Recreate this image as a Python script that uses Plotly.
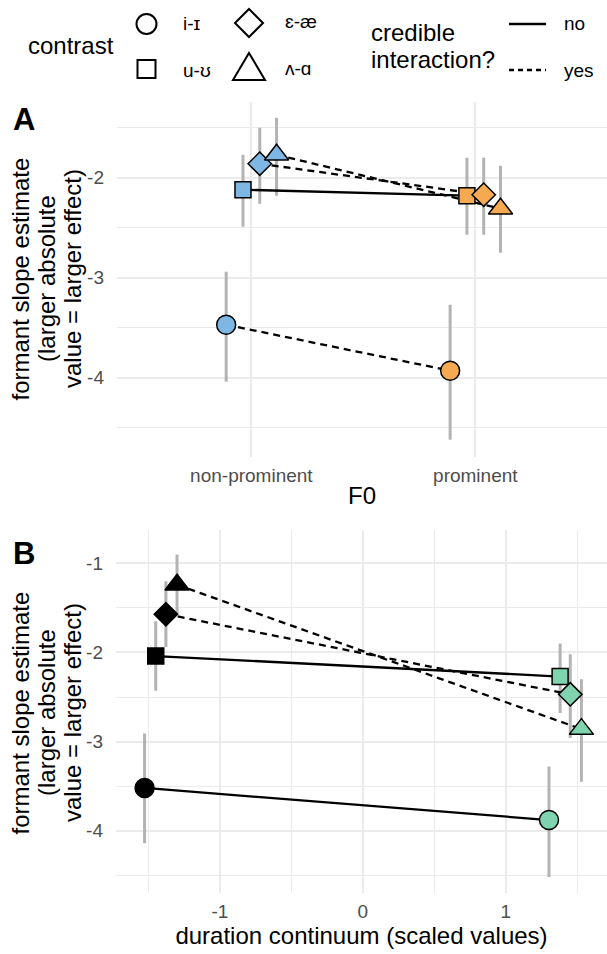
import plotly.graph_objects as go

W, H = 607, 954

# ---------------- data ----------------
contrasts = ["i-ɪ", "u-ʊ", "ɛ-æ", "ʌ-ɑ"]
symbols = ["circle", "square", "diamond", "triangle-up"]

# Panel A: F0 (categorical)
f0_levels = ["non-prominent", "prominent"]
a_est_nonprom = [-3.47, -2.12, -1.86, -1.77]
a_lo_nonprom = [-4.04, -2.49, -2.26, -2.18]
a_hi_nonprom = [-2.94, -1.77, -1.50, -1.40]
a_est_prom = [-3.93, -2.18, -2.17, -2.31]
a_lo_prom = [-4.62, -2.57, -2.57, -2.75]
a_hi_prom = [-3.27, -1.80, -1.80, -1.88]
a_credible = ["yes", "no", "yes", "yes"]

# Panel B: duration continuum (scaled values)
b_x_short = [-1.527, -1.449, -1.378, -1.300]
b_x_long = [1.302, 1.380, 1.451, 1.529]
b_est_short = [-3.52, -2.04, -1.57, -1.24]
b_lo_short = [-4.14, -2.43, -1.94, -1.57]
b_hi_short = [-2.91, -1.65, -1.20, -0.90]
b_est_long = [-3.88, -2.27, -2.47, -2.86]
b_lo_long = [-4.52, -2.68, -2.96, -3.45]
b_hi_long = [-3.28, -1.90, -2.02, -2.30]
b_credible = ["no", "no", "yes", "yes"]

a_yticks = [-4, -3, -2]
a_yminor = [-4.5, -3.5, -2.5, -1.5]
b_yticks = [-4, -3, -2, -1]
b_yminor = [-4.5, -3.5, -2.5, -1.5]
b_xticks = [-1, 0, 1]
b_xminor = [-1.5, -0.5, 0.5, 1.5]

ytitle_lines = ["formant slope estimate", "(larger absolute", "value = larger effect)"]

# ---------------- style ----------------
FONT = "Liberation Sans, Arial, DejaVu Sans, sans-serif"
marker_sizes = [19, 16, 18, 21]
col_a = ["#7EB6E4", "#F5AA52"]
col_b = ["#000000", "#7FD3AE"]
err_col = "#B3B3B3"
grid_col = "#EBEBEB"
dodge = [-0.1125, -0.0375, 0.0375, 0.1125]
dash_map = {"no": "solid", "yes": "7px,5px"}


def px_x(p):
    return p / W


def px_y(p):
    return 1 - p / H


fig = go.Figure()


def add_panel(xs0, xs1, e0, e1, lo0, lo1, hi0, hi1, cred, cols, xa, ya):
    # error bars (bottom layer)
    for i in range(4):
        fig.add_trace(go.Scatter(
            x=[xs0[i], xs1[i]], y=[e0[i], e1[i]], mode="markers",
            marker=dict(size=2, opacity=0),
            error_y=dict(type="data", symmetric=False,
                         array=[hi0[i] - e0[i], hi1[i] - e1[i]],
                         arrayminus=[e0[i] - lo0[i], e1[i] - lo1[i]],
                         color=err_col, thickness=3, width=0),
            xaxis=xa, yaxis=ya, showlegend=False, hoverinfo="skip"))
    # connecting lines
    for i in range(4):
        fig.add_trace(go.Scatter(
            x=[xs0[i], xs1[i]], y=[e0[i], e1[i]], mode="lines",
            line=dict(color="black", width=2.3, dash=dash_map[cred[i]]),
            xaxis=xa, yaxis=ya, showlegend=False, hoverinfo="skip"))
    # points
    for i in range(4):
        fig.add_trace(go.Scatter(
            x=[xs0[i], xs1[i]], y=[e0[i], e1[i]], mode="markers",
            name=contrasts[i],
            marker=dict(symbol=symbols[i], size=marker_sizes[i], color=cols,
                        line=dict(color="black", width=1.5)),
            xaxis=xa, yaxis=ya, showlegend=False))


a_x0 = [1 + d for d in dodge]
a_x1 = [2 + d for d in dodge]
add_panel(a_x0, a_x1, a_est_nonprom, a_est_prom, a_lo_nonprom, a_lo_prom,
          a_hi_nonprom, a_hi_prom, a_credible, col_a, "x", "y")
add_panel(b_x_short, b_x_long, b_est_short, b_est_long, b_lo_short, b_lo_long,
          b_hi_short, b_hi_long, b_credible, col_b, "x2", "y2")

tickfont = dict(family=FONT, size=19, color="#4D4D4D")
titlefont = dict(family=FONT, size=24, color="black")

common_ax = dict(showline=False, zeroline=False, ticks="", tickfont=tickfont,
                 gridcolor=grid_col, gridwidth=1.6, showgrid=True)

fig.update_layout(
    width=W, height=H, margin=dict(l=0, r=0, t=0, b=0),
    paper_bgcolor="white", plot_bgcolor="white", showlegend=False,
    font=dict(family=FONT, color="black"),
    xaxis=dict(domain=[px_x(117), 1], range=[0.4, 2.588], anchor="y",
               tickmode="array", tickvals=[1, 2], ticktext=f0_levels,
               ticklabelstandoff=5,
               title=dict(text="F0", font=titlefont, standoff=2), **common_ax),
    yaxis=dict(domain=[px_y(456.7), px_y(101.7)], range=[-4.79, -1.24], anchor="x",
               tickmode="array", tickvals=a_yticks, ticktext=[str(v) for v in a_yticks],
               ticklabelstandoff=12,
               minor=dict(tickmode="array", tickvals=a_yminor, showgrid=True,
                          gridcolor=grid_col, gridwidth=0.9, ticks=""),
               **common_ax),
    xaxis2=dict(domain=[px_x(116), 1], range=[-1.727, 1.708], anchor="y2",
                tickmode="array", tickvals=b_xticks, ticktext=[str(v) for v in b_xticks],
                ticklabelstandoff=5,
                minor=dict(tickmode="array", tickvals=b_xminor, showgrid=True,
                           gridcolor=grid_col, gridwidth=0.9, ticks=""),
                title=dict(text="duration continuum (scaled values)", font=titlefont, standoff=0),
                **common_ax),
    yaxis2=dict(domain=[px_y(893.3), px_y(530)], range=[-4.702, -0.626], anchor="x2",
                tickmode="array", tickvals=b_yticks, ticktext=[str(v) for v in b_yticks],
                ticklabelstandoff=12,
                minor=dict(tickmode="array", tickvals=b_yminor, showgrid=True,
                           gridcolor=grid_col, gridwidth=0.9, ticks=""),
                **common_ax),
)

ann = []
for txt, yc in [("A", 119), ("B", 553)]:
    ann.append(dict(text="<b>%s</b>" % txt, x=px_x(24), y=px_y(yc), xref="paper", yref="paper",
                    showarrow=False, xanchor="center", yanchor="middle",
                    font=dict(family=FONT, size=31, color="black")))
for yc in [279, 713]:
    for line, lx in zip(ytitle_lines, [19.5, 46, 72]):
        ann.append(dict(text=line, x=px_x(lx), y=px_y(yc), xref="paper", yref="paper",
                        showarrow=False, textangle=-90, xanchor="center", yanchor="middle",
                        font=dict(family=FONT, size=24, color="black")))

# ---------------- legend (drawn manually) ----------------
leg_font = dict(family=FONT, size=19, color="black")
ann.append(dict(text="contrast", x=px_x(26), y=px_y(46), xref="paper", yref="paper",
                showarrow=False, xanchor="left", yanchor="middle",
                font=dict(family=FONT, size=24, color="black")))
for line, ly in [("credible", 33), ("interaction?", 59)]:
    ann.append(dict(text=line, x=px_x(369), y=px_y(ly), xref="paper", yref="paper",
                    showarrow=False, xanchor="left", yanchor="middle",
                    font=dict(family=FONT, size=24, color="black")))
leg_label_pos = [(181, 24), (181, 70), (283, 22), (283, 68)]
for lab, (lx, ly) in zip(contrasts, leg_label_pos):
    ann.append(dict(text=lab, x=px_x(lx), y=px_y(ly), xref="paper", yref="paper",
                    showarrow=False, xanchor="left", yanchor="middle", font=leg_font))
for lab, ly in [("no", 24), ("yes", 70)]:
    ann.append(dict(text=lab, x=px_x(562), y=px_y(ly), xref="paper", yref="paper",
                    showarrow=False, xanchor="left", yanchor="middle", font=leg_font))

shapes = []
lw = dict(color="black", width=2)
shapes.append(dict(type="circle", xref="paper", yref="paper",
                   x0=px_x(136.5), x1=px_x(156.5), y0=px_y(34), y1=px_y(14), line=lw))
shapes.append(dict(type="rect", xref="paper", yref="paper",
                   x0=px_x(137.5), x1=px_x(155.5), y0=px_y(78), y1=px_y(60), line=lw))


def path_from(pts):
    return "M " + " L ".join("%f,%f" % (px_x(a), px_y(b)) for a, b in pts) + " Z"


shapes.append(dict(type="path", xref="paper", yref="paper", line=lw,
                   path=path_from([(249, 9), (263, 23), (249, 37), (235, 23)])))
shapes.append(dict(type="path", xref="paper", yref="paper", line=lw,
                   path=path_from([(249, 53), (265, 80), (233, 80)])))
shapes.append(dict(type="line", xref="paper", yref="paper", line=dict(color="black", width=2.3),
                   x0=px_x(509), x1=px_x(546), y0=px_y(24), y1=px_y(24)))
shapes.append(dict(type="line", xref="paper", yref="paper",
                   line=dict(color="black", width=2.3, dash="5px,4px"),
                   x0=px_x(509), x1=px_x(546), y0=px_y(70), y1=px_y(70)))

fig.update_layout(annotations=ann, shapes=shapes)

fig.write_html("out.html", config={"displayModeBar": False},
               post_script="document.body.style.margin='0';")
